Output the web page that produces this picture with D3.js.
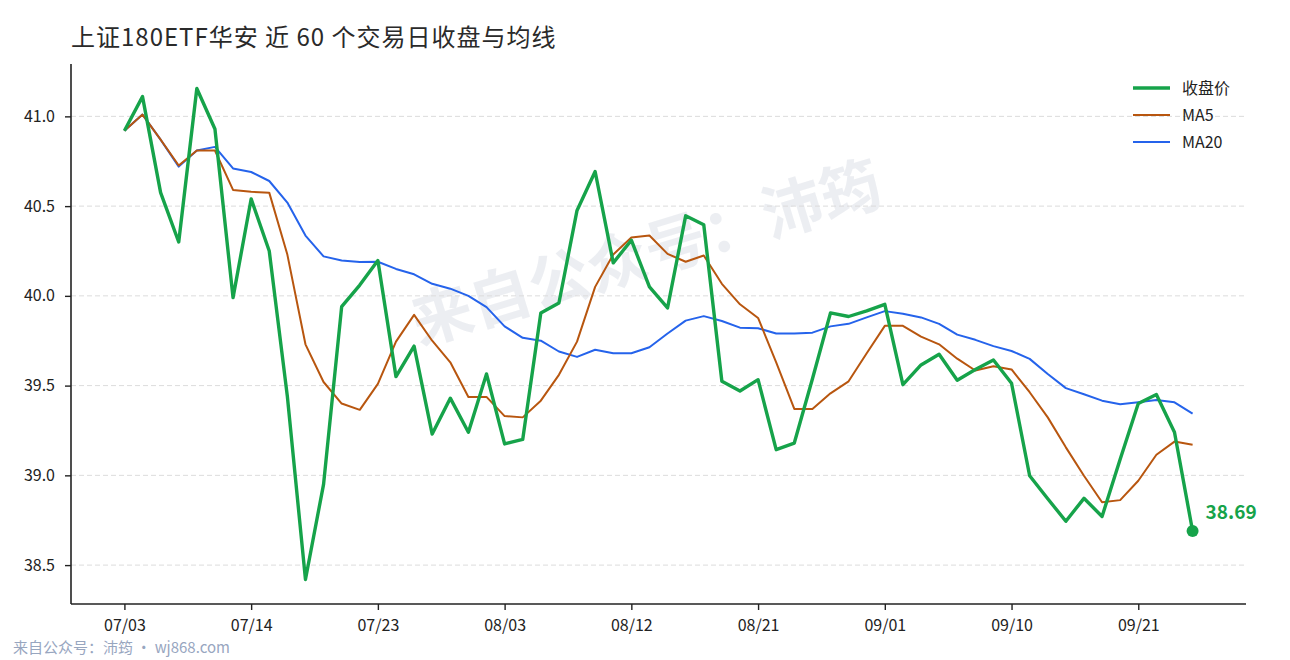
<!DOCTYPE html>
<html>
<head>
<meta charset="utf-8">
<script src="https://cdn.jsdelivr.net/npm/d3@7"></script>
<style>
  body { margin: 0; background: #fff; }
  svg { display: block; font-family: "Noto Sans CJK SC", "Noto Sans", sans-serif; }
</style>
</head>
<body>
<svg id="chart" width="1290" height="660"></svg>
<script>
// 上证180ETF华安, last 60 trading days
const closes = [40.92, 41.11, 40.575, 40.30, 41.155, 40.93, 39.99, 40.54, 40.25, 39.44,
  38.42, 38.95, 39.94, 40.06, 40.197, 39.55, 39.72, 39.23, 39.43, 39.24,
  39.565, 39.175, 39.20, 39.905, 39.96, 40.476, 40.693, 40.184, 40.31, 40.05,
  39.933, 40.446, 40.396, 39.524, 39.47, 39.533, 39.143, 39.18, 39.537, 39.905,
  39.885, 39.916, 39.953, 39.505, 39.615, 39.675, 39.53, 39.59, 39.643, 39.513,
  38.998, 38.87, 38.744, 38.872, 38.771, 39.09, 39.40, 39.45, 39.24, 38.69];

const ma5 = [40.92, 41.01, 40.87, 40.726, 40.81, 40.81, 40.59, 40.58, 40.575, 40.23,
  39.73, 39.52, 39.40, 39.365, 39.51, 39.745, 39.894, 39.75, 39.63, 39.437,
  39.437, 39.33, 39.323, 39.416, 39.56, 39.745, 40.05, 40.23, 40.325, 40.336,
  40.234, 40.19, 40.225, 40.067, 39.953, 39.877, 39.63, 39.37, 39.37, 39.457,
  39.524, 39.68, 39.833, 39.833, 39.773, 39.73, 39.65, 39.584, 39.608, 39.59,
  39.463, 39.323, 39.156, 38.998, 38.85, 38.862, 38.97, 39.115, 39.188, 39.17];

const ma20 = [40.92, 41.01, 40.87, 40.72, 40.81, 40.83, 40.71, 40.69, 40.64, 40.52,
  40.336, 40.22, 40.197, 40.188, 40.19, 40.15, 40.12, 40.067, 40.04, 40.00,
  39.937, 39.83, 39.766, 39.75, 39.69, 39.66, 39.70, 39.68, 39.68, 39.714,
  39.79, 39.862, 39.887, 39.86, 39.823, 39.82, 39.79, 39.79, 39.795, 39.83,
  39.844, 39.88, 39.915, 39.90, 39.88, 39.844, 39.784, 39.755, 39.72, 39.693,
  39.649, 39.565, 39.486, 39.452, 39.416, 39.396, 39.407, 39.42, 39.407, 39.344];

const tickDays = [0, 7, 14, 21, 28, 35, 42, 49, 56];
const tickLabels = ["07/03", "07/14", "07/23", "08/03", "08/12", "08/21", "09/01", "09/10", "09/21"];
const yTicks = [38.5, 39.0, 39.5, 40.0, 40.5, 41.0];

const seriesNames = ["收盘价", "MA5", "MA20"];
const colors = ["#16a34a", "#b8560f", "#2563eb"];
const widths = [3.4, 2, 2];

const svg = d3.select("#chart");
const L = 71, R = 1246, T = 64, B = 604;

// matplotlib-like 5% margins
const n = closes.length;
const xPad = (n - 1) * 0.05;
const x = d3.scaleLinear().domain([-xPad, n - 1 + xPad]).range([L, R]);
const allVals = closes.concat(ma5, ma20);
const [lo, hi] = d3.extent(allVals);
const yPad = (hi - lo) * 0.05;
const y = d3.scaleLinear().domain([lo - yPad, hi + yPad]).range([B, T]);

// title
svg.append("text")
  .attr("x", 71).attr("y", 46)
  .attr("font-size", 24).attr("letter-spacing", 1).attr("fill", "#2a2a2a")
  .text("上证180ETF华安 近 60 个交易日收盘与均线");

// watermark
svg.append("text")
  .attr("transform", "translate(648,258) rotate(-17)")
  .attr("text-anchor", "middle")
  .attr("dominant-baseline", "middle")
  .attr("font-size", 61).attr("font-weight", "bold")
  .attr("fill", "#e9ebf0").attr("fill-opacity", 0.85)
  .text("来自公众号：沛筠");

// grid
svg.append("g")
  .selectAll("line")
  .data(yTicks)
  .join("line")
  .attr("x1", L).attr("x2", R)
  .attr("y1", d => y(d)).attr("y2", d => y(d))
  .attr("stroke", "#dcdcdc").attr("stroke-width", 1)
  .attr("stroke-dasharray", "5,3");

// axes
const yAxis = d3.axisLeft(y).tickValues(yTicks).tickFormat(d3.format(".1f")).tickSize(6).tickPadding(10);
const gy = svg.append("g").attr("transform", `translate(${L},0)`).call(yAxis);
gy.select(".domain").attr("d", `M0,${T}V${B}`);

const xAxis = d3.axisBottom(x).tickValues(tickDays)
  .tickFormat((d, i) => tickLabels[i]).tickSize(6).tickPadding(10);
const gx = svg.append("g").attr("transform", `translate(0,${B})`).call(xAxis);
gx.select(".domain").attr("d", `M${L},0H${R}`);

[gx, gy].forEach(g => {
  g.select(".domain").attr("stroke", "#222").attr("stroke-width", 1.6);
  g.selectAll(".tick line").attr("stroke", "#222").attr("stroke-width", 1.4);
  g.selectAll(".tick text").attr("fill", "#222").attr("font-size", 16)
    .attr("font-family", "'Noto Sans CJK SC', 'Noto Sans', sans-serif");
});

// lines
const line = d3.line().x((d, i) => x(i)).y(d => y(d));
const series = [closes, ma5, ma20];
[2, 1, 0].forEach(k => {
  svg.append("path")
    .datum(series[k])
    .attr("fill", "none")
    .attr("stroke", colors[k])
    .attr("stroke-width", widths[k])
    .attr("stroke-linejoin", "round")
    .attr("d", line);
});

// last point
const last = n - 1;
svg.append("circle")
  .attr("cx", x(last)).attr("cy", y(closes[last]))
  .attr("r", 6).attr("fill", colors[0]);
svg.append("text")
  .attr("x", x(last) + 13).attr("y", y(closes[last]) - 12)
  .attr("font-size", 19).attr("font-weight", "bold").attr("fill", colors[0])
  .text(closes[last].toFixed(2));

// legend
const lg = svg.append("g").attr("transform", "translate(1133,88)");
seriesNames.forEach((name, i) => {
  lg.append("line")
    .attr("x1", 0).attr("x2", 37)
    .attr("y1", i * 27).attr("y2", i * 27)
    .attr("stroke", colors[i]).attr("stroke-width", widths[i]);
  lg.append("text")
    .attr("x", 49).attr("y", i * 27)
    .attr("dy", "0.35em")
    .attr("font-size", 16).attr("fill", "#222")
    .text(name);
});

// footer
svg.append("text")
  .attr("x", 13).attr("y", 653)
  .attr("font-size", 15).attr("fill", "#98a6bf")
  .text("来自公众号：沛筠 · wj868.com");
</script>
</body>
</html>
